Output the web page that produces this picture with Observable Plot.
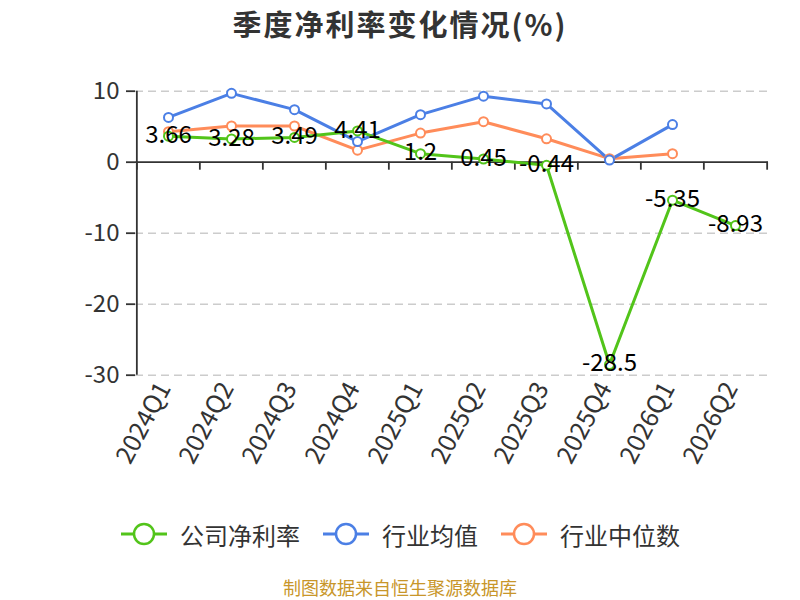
<!DOCTYPE html>
<html>
<head>
<meta charset="utf-8">
<script src="https://cdn.jsdelivr.net/npm/d3@7"></script>
<script src="https://cdn.jsdelivr.net/npm/@observablehq/plot@0.6"></script>
<style>
  html, body { margin: 0; padding: 0; background: #fff; }
  body { width: 800px; height: 600px; position: relative; overflow: hidden;
         font-family: "Noto Sans CJK SC", "Noto Sans", sans-serif; }
  #title { position: absolute; top: 0; left: 0; width: 800px; text-align: center;
           font-size: 29px; font-weight: bold; color: #333; line-height: 46px; letter-spacing: 2px; }
  #chart { position: absolute; top: 50px; left: 0; }
  #unit { position: absolute; left: 71px; top: 125px; transform: translate(-50%, -50%) rotate(-90deg);
          color: #ff0000; font-size: 16px; white-space: nowrap; }
  #legend { position: absolute; top: 515px; left: 0; width: 800px; display: flex; justify-content: center;
            align-items: center; height: 38px; }
  .item { display: flex; align-items: center; margin: 0 11px; font-size: 24px; color: #333; }
  .item svg { margin-right: 12px; }
  #footer { position: absolute; top: 577px; left: 0; width: 800px; text-align: center;
            font-size: 18px; color: #c8962a; line-height: 20px; }
</style>
</head>
<body>
<div id="title">季度净利率变化情况(%)</div>
<div id="unit">(%)</div>
<div id="chart"></div>
<div id="legend"></div>
<div id="footer">制图数据来自恒生聚源数据库</div>
<script>
const categories = ["2024Q1","2024Q2","2024Q3","2024Q4","2025Q1","2025Q2","2025Q3","2025Q4","2026Q1","2026Q2"];
const companyValues = [3.66, 3.28, 3.49, 4.41, 1.2, 0.45, -0.44, -28.5, -5.35, -8.93];
const industryMean = [6.3, 9.7, 7.4, 2.9, 6.7, 9.3, 8.2, 0.3, 5.3, null];
const industryMedian = [4.3, 5.1, 5.1, 1.7, 4.1, 5.7, 3.3, 0.5, 1.2, null];
const seriesNames = ["公司净利率", "行业均值", "行业中位数"];
const seriesColors = ["#52c41a", "#4b7fe5", "#ff8c5a"];
const yTicks = [10, 0, -10, -20, -30];

const rows = [];
[companyValues, industryMean, industryMedian].forEach((vals, s) => {
  vals.forEach((v, i) => { if (v !== null) rows.push({series: seriesNames[s], cat: categories[i], value: v}); });
});
const companyRows = rows.filter(d => d.series === seriesNames[0]);

const W = 800, H = 470, mL = 135, mR = 32, mT = 40.7, mB = 145.3;
const step = (W - mL - mR) / categories.length;

const lineFor = (name, color) =>
  Plot.line(rows.filter(d => d.series === name), {x: "cat", y: "value", stroke: color, strokeWidth: 3});
const dotFor = (name, color) =>
  Plot.dot(rows.filter(d => d.series === name), {x: "cat", y: "value", r: 4.5, fill: "#fff", stroke: color, strokeWidth: 2});

const chart = Plot.plot({
  width: W, height: H,
  marginLeft: mL, marginRight: mR, marginTop: mT, marginBottom: mB,
  style: {fontFamily: "'Noto Sans CJK SC', 'Noto Sans', sans-serif", background: "#fff", overflow: "visible"},
  x: {type: "point", domain: categories, padding: 0.5},
  y: {domain: [-30, 10]},
  marks: [
    Plot.ruleY(yTicks.filter(d => d !== 0), {stroke: "#ccc", strokeWidth: 1.5, strokeDasharray: "8,5"}),
    Plot.ruleY([0], {stroke: "#333", strokeWidth: 1.8}),
    // y axis line
    Plot.ruleX([categories[0]], {x: d => d, y1: -30, y2: 10, dx: -step / 2, stroke: "#333", strokeWidth: 1.8}),
    // x axis boundary ticks
    Plot.ruleX(categories, {x: d => d, y1: 0, y2: 0, dx: -step / 2, insetBottom: -8, stroke: "#333", strokeWidth: 1.8}),
    Plot.ruleX([categories[categories.length - 1]], {x: d => d, y1: 0, y2: 0, dx: step / 2, insetBottom: -8, stroke: "#333", strokeWidth: 1.8}),
    Plot.axisY({ticks: yTicks, tickSize: 9, tickPadding: 7, fontSize: 24, color: "#333", stroke: "#333", strokeWidth: 1.8,
                tickFormat: d => String(d), label: null}),
    Plot.axisX({tickRotate: -62, tickSize: 0, tickPadding: 9, dx: -4, fontSize: 25, color: "#333", label: null}),
    lineFor(seriesNames[2], seriesColors[2]),
    lineFor(seriesNames[1], seriesColors[1]),
    lineFor(seriesNames[0], seriesColors[0]),
    dotFor(seriesNames[2], seriesColors[2]),
    dotFor(seriesNames[1], seriesColors[1]),
    dotFor(seriesNames[0], seriesColors[0]),
    Plot.text(companyRows, {x: "cat", y: "value", text: d => String(d.value), fontSize: 24, fill: "#000", dy: -1})
  ]
});
document.getElementById("chart").appendChild(chart);

const legend = document.getElementById("legend");
seriesNames.forEach((name, i) => {
  const item = document.createElement("div");
  item.className = "item";
  item.innerHTML = `<svg width="48" height="26"><line x1="1" y1="13" x2="47" y2="13" stroke="${seriesColors[i]}" stroke-width="3"/>` +
    `<circle cx="24" cy="13" r="10" fill="#fff" stroke="${seriesColors[i]}" stroke-width="2.5"/></svg><span>${name}</span>`;
  legend.appendChild(item);
});
</script>
</body>
</html>
